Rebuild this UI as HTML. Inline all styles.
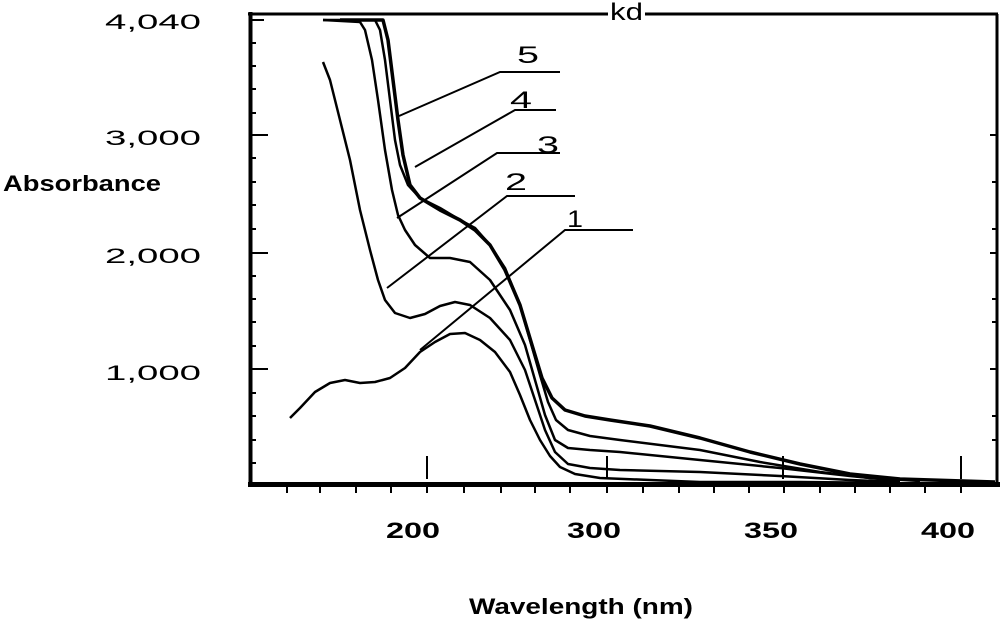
<!DOCTYPE html>
<html><head><style>
html,body{margin:0;padding:0;background:#fff;}
svg{display:block;}
text{font-family:"Liberation Sans",sans-serif;fill:#000;}
</style></head><body>
<svg width="1000" height="623" viewBox="0 0 1000 623" xmlns="http://www.w3.org/2000/svg">
<line x1="250.5" y1="12" x2="250.5" y2="487" stroke="#000" stroke-width="4"/>
<line x1="248" y1="484.5" x2="1000" y2="484.5" stroke="#000" stroke-width="5"/>
<line x1="248" y1="14" x2="608" y2="14" stroke="#000" stroke-width="3"/>
<line x1="645" y1="14" x2="998" y2="14" stroke="#000" stroke-width="3"/>
<line x1="997" y1="14" x2="997" y2="487" stroke="#000" stroke-width="3"/>
<text x="610" y="20" font-size="24" textLength="33" lengthAdjust="spacingAndGlyphs">kd</text>
<g stroke="#000" stroke-width="2">
<line x1="250" y1="20" x2="264" y2="20"/>
<line x1="250" y1="43" x2="256" y2="43"/><line x1="250" y1="66" x2="256" y2="66"/>
<line x1="250" y1="89" x2="256" y2="89"/><line x1="250" y1="113" x2="256" y2="113"/>
<line x1="250" y1="135" x2="268" y2="135"/>
<line x1="250" y1="158" x2="256" y2="158"/><line x1="250" y1="182" x2="256" y2="182"/>
<line x1="250" y1="205" x2="256" y2="205"/><line x1="250" y1="229" x2="256" y2="229"/>
<line x1="250" y1="253" x2="268" y2="253"/>
<line x1="250" y1="276" x2="256" y2="276"/><line x1="250" y1="299" x2="256" y2="299"/>
<line x1="250" y1="322" x2="256" y2="322"/><line x1="250" y1="346" x2="256" y2="346"/>
<line x1="250" y1="369" x2="268" y2="369"/>
<line x1="250" y1="393" x2="256" y2="393"/><line x1="250" y1="416" x2="256" y2="416"/>
<line x1="250" y1="440" x2="256" y2="440"/><line x1="250" y1="463" x2="256" y2="463"/>
<line x1="990" y1="135" x2="997" y2="135"/><line x1="990" y1="253" x2="997" y2="253"/><line x1="990" y1="369" x2="997" y2="369"/>
<line x1="992" y1="182" x2="997" y2="182"/><line x1="992" y1="229" x2="997" y2="229"/><line x1="992" y1="299" x2="997" y2="299"/><line x1="992" y1="322" x2="997" y2="322"/><line x1="992" y1="416" x2="997" y2="416"/><line x1="992" y1="440" x2="997" y2="440"/>
<line x1="427" y1="456" x2="427" y2="479"/><line x1="607" y1="456" x2="607" y2="479"/>
<line x1="783" y1="456" x2="783" y2="479"/><line x1="961" y1="456" x2="961" y2="479"/>
</g>
<g stroke="#000" stroke-width="2">
<line x1="287" y1="487" x2="287" y2="493"/><line x1="320" y1="487" x2="320" y2="493"/>
<line x1="356" y1="487" x2="356" y2="493"/><line x1="391" y1="487" x2="391" y2="493"/>
<line x1="427" y1="487" x2="427" y2="493"/><line x1="464" y1="487" x2="464" y2="493"/>
<line x1="501" y1="487" x2="501" y2="493"/><line x1="535" y1="487" x2="535" y2="493"/>
<line x1="570" y1="487" x2="570" y2="493"/><line x1="607" y1="487" x2="607" y2="493"/>
<line x1="643" y1="487" x2="643" y2="493"/><line x1="679" y1="487" x2="679" y2="493"/>
<line x1="714" y1="487" x2="714" y2="493"/><line x1="749" y1="487" x2="749" y2="493"/>
<line x1="784" y1="487" x2="784" y2="493"/><line x1="820" y1="487" x2="820" y2="493"/>
<line x1="855" y1="487" x2="855" y2="493"/><line x1="890" y1="487" x2="890" y2="493"/>
<line x1="925" y1="487" x2="925" y2="493"/><line x1="961" y1="487" x2="961" y2="493"/>
</g>
<g font-size="21" lengthAdjust="spacingAndGlyphs">
<text x="105" y="29" textLength="96" lengthAdjust="spacingAndGlyphs">4,040</text>
<text x="105" y="145" textLength="96" lengthAdjust="spacingAndGlyphs">3,000</text>
<text x="105" y="263" textLength="96" lengthAdjust="spacingAndGlyphs">2,000</text>
<text x="105" y="380" textLength="96" lengthAdjust="spacingAndGlyphs">1,000</text>
</g>
<text x="3" y="191" font-size="22" font-weight="bold" textLength="158" lengthAdjust="spacingAndGlyphs">Absorbance</text>
<g font-size="22" font-weight="bold">
<text x="386" y="538" textLength="54" lengthAdjust="spacingAndGlyphs">200</text>
<text x="567" y="538" textLength="54" lengthAdjust="spacingAndGlyphs">300</text>
<text x="744" y="538" textLength="54" lengthAdjust="spacingAndGlyphs">350</text>
<text x="921" y="538" textLength="54" lengthAdjust="spacingAndGlyphs">400</text>
</g>
<text x="469" y="614" font-size="22" font-weight="bold" textLength="224" lengthAdjust="spacingAndGlyphs">Wavelength (nm)</text>
<g fill="none" stroke="#000" stroke-width="2.5" stroke-linejoin="round">
<polyline points="290,418 300,408 315,392 330,383 345,380 360,383 375,382 390,378 405,368 420,352 435,342 450,334 465,333 480,340 495,352 510,372 520,395 530,420 540,440 550,456 560,467 575,474 600,478 650,480 700,482 800,482 900,483"/>
<polyline points="323,62 330,80 340,120 350,160 360,210 370,250 378,280 385,300 395,313 410,318 425,314 440,306 455,302 470,305 490,318 510,340 525,370 535,400 545,430 555,452 568,464 590,468 620,470 700,472 780,476 850,480 900,482"/>
<polyline points="323,20 360,22 365,30 372,60 378,100 385,150 392,190 398,215 405,230 415,245 430,258 450,258 470,262 490,280 510,310 525,345 535,380 545,415 555,440 568,448 590,450 620,452 700,460 780,468 850,476 900,481"/>
<polyline points="323,20 375,20 380,30 385,60 390,100 395,140 400,165 408,185 420,198 440,208 460,220 475,228 490,245 505,268 520,305 530,340 540,375 548,402 556,420 568,430 590,436 620,440 700,450 760,462 820,472 870,478 920,481"/>
<polyline points="340,20 383,20 388,40 393,80 398,120 403,155 410,185 420,198 440,210 460,220 475,230 490,245 505,270 520,305 532,345 542,378 552,398 565,410 585,416 610,420 650,426 700,438 750,452 800,464 850,474 900,479 995,482" stroke-width="3.5"/>
</g>
<g fill="none" stroke="#000" stroke-width="2">
<polyline points="399,116 500,72 560,72"/>
<polyline points="415,167 515,110 556,110"/>
<polyline points="397,218 497,153 560,153"/>
<polyline points="387,288 507,196 575,196"/>
<polyline points="420,350 565,230 633,230"/>
</g>
<g font-size="24">
<text x="517" y="63" textLength="22" lengthAdjust="spacingAndGlyphs">5</text>
<text x="510" y="108" textLength="22" lengthAdjust="spacingAndGlyphs">4</text>
<text x="537" y="153" textLength="22" lengthAdjust="spacingAndGlyphs">3</text>
<text x="505" y="190" textLength="22" lengthAdjust="spacingAndGlyphs">2</text>
<text x="567" y="227" textLength="16" lengthAdjust="spacingAndGlyphs">1</text>
</g>
</svg>
</body></html>
